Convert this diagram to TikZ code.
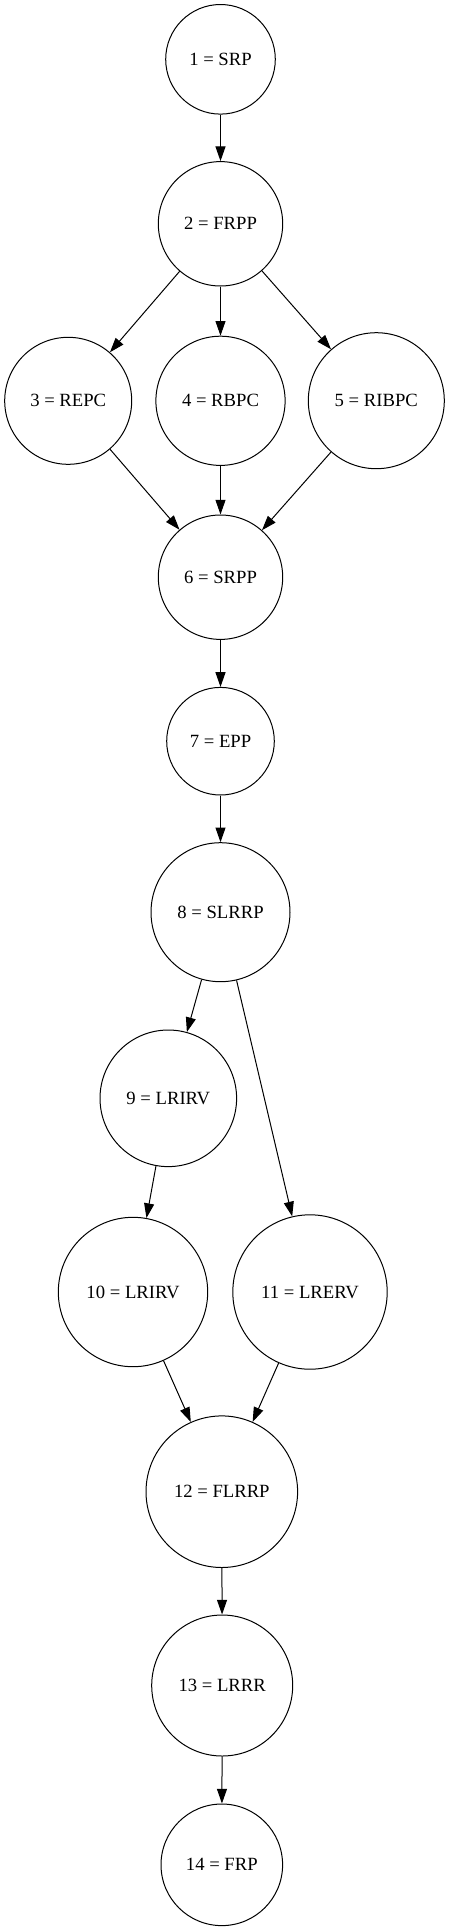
\documentclass[tikz,border=0pt]{standalone}
\usepackage{fontspec}
\setmainfont{Liberation Serif}
\usepackage{tikz}
\usetikzlibrary{arrows.meta}

\begin{document}
\begin{tikzpicture}[
    x=0.75pt, y=-0.75pt,
    font=\fontsize{14}{17}\selectfont,
    st/.style={draw, circle, line width=0.75pt, inner sep=0pt, minimum size=#1*1.5pt},
    arrow/.style={-{Triangle[length=11pt, width=7.5pt]}, line width=0.75pt}
]
    \useasboundingbox (0,0) rectangle (450,1931);

    \node[st=54.8] (n1) at (220.5, 59.3) {1 = SRP};
    \node[st=62.2] (n2) at (220.5, 223.8) {2 = FRPP};
    \node[st=63.5] (n3) at (68.2, 400.8) {3 = REPC};
    \node[st=64.6] (n4) at (220.5, 400.8) {4 = RBPC};
    \node[st=68.0] (n5) at (376.3, 400.7) {5 = RIBPC};
    \node[st=62.2] (n6) at (220.5, 577.2) {6 = SRPP};
    \node[st=53.8] (n7) at (220.5, 741.2) {7 = EPP};
    \node[st=69.5] (n8) at (220.5, 912.2) {8 = SLRRP};
    \node[st=68.3] (n9) at (168.3, 1098.3) {9 = LRIRV};
    \node[st=74.7] (n10) at (133.0, 1292.0) {10 = LRIRV};
    \node[st=77.2] (n11) at (310.0, 1292.0) {11 = LRERV};
    \node[st=75.8] (n12) at (221.8, 1491.7) {12 = FLRRP};
    \node[st=70.5] (n13) at (222.2, 1685.5) {13 = LRRR};
    \node[st=60.8] (n14) at (221.8, 1864.8) {14 = FRP};

    \draw[arrow] (n1) -- (n2);
    \draw[arrow] (n2) -- (n3);
    \draw[arrow] (n2) -- (n4);
    \draw[arrow] (n2) -- (n5);
    \draw[arrow] (n3) -- (n6);
    \draw[arrow] (n4) -- (n6);
    \draw[arrow] (n5) -- (n6);
    \draw[arrow] (n6) -- (n7);
    \draw[arrow] (n7) -- (n8);
    \draw[arrow] (n8) -- (n9);
    \draw[arrow] (n8) -- (n11);
    \draw[arrow] (n9) -- (n10);
    \draw[arrow] (n10) -- (n12);
    \draw[arrow] (n11) -- (n12);
    \draw[arrow] (n12) -- (n13);
    \draw[arrow] (n13) -- (n14);
\end{tikzpicture}
\end{document}
